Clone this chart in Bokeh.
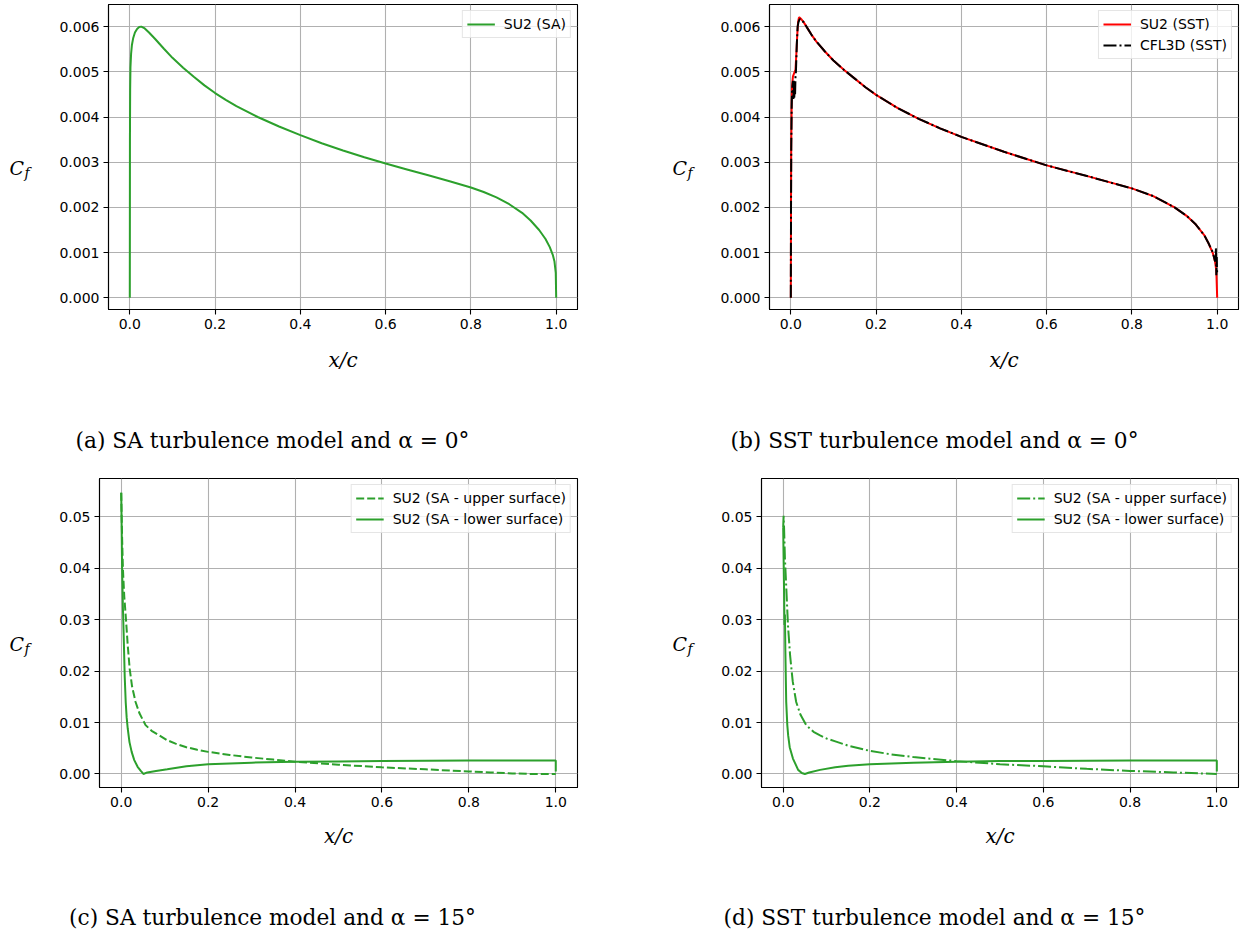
from bokeh.plotting import figure
from bokeh.layouts import column, row
from bokeh.models import Range1d, FixedTicker, NumeralTickFormatter, Legend, LegendItem
from bokeh.core.properties import value
from bokeh.embed import file_html
from bokeh.resources import INLINE

# ---------------- data ----------------
x_ticks = [0.0, 0.2, 0.4, 0.6, 0.8, 1.0]
y_ticks_top = [0.000, 0.001, 0.002, 0.003, 0.004, 0.005, 0.006]
y_ticks_bot = [0.00, 0.01, 0.02, 0.03, 0.04, 0.05]

# (a) SA, alpha = 0
xa = [0.0, 0.0003, 0.0008, 0.0015, 0.003, 0.005, 0.008, 0.012, 0.017, 0.022, 0.027, 0.035,
      0.045, 0.06, 0.08, 0.1, 0.125, 0.15, 0.175, 0.2, 0.225, 0.25, 0.3, 0.35, 0.4, 0.45,
      0.5, 0.55, 0.6, 0.65, 0.7, 0.75, 0.8, 0.83, 0.86, 0.89, 0.92, 0.94, 0.96, 0.975, 0.985,
      0.992, 0.996, 0.999, 1.0]
cfa = [0.0, 0.0035, 0.0046, 0.0051, 0.0054, 0.0056, 0.00575, 0.00587, 0.00595, 0.00599, 0.0060, 0.00596,
       0.00587, 0.00572, 0.00551, 0.00531, 0.00509, 0.00489, 0.00470, 0.00453, 0.00438, 0.00424, 0.00400, 0.00379, 0.00360, 0.00342,
       0.00326, 0.00311, 0.00297, 0.00284, 0.00271, 0.00258, 0.00244, 0.00234, 0.00222, 0.00207, 0.00188, 0.00171, 0.00150, 0.00130, 0.00112,
       0.00095, 0.00080, 0.00055, 0.0]

# (b) SST, alpha = 0
xb = [0.0, 0.0005, 0.001, 0.002, 0.003, 0.005, 0.007, 0.009, 0.011, 0.013, 0.015, 0.017, 0.019,
      0.021, 0.024, 0.03, 0.04, 0.05, 0.06, 0.08, 0.1, 0.125, 0.15, 0.175, 0.2, 0.25, 0.3, 0.35, 0.4,
      0.5, 0.6, 0.7, 0.8, 0.85, 0.9, 0.93, 0.95, 0.97, 0.98, 0.99, 0.995, 0.998, 1.0]
cfb = [0.0, 0.0022, 0.0034, 0.0043, 0.0047, 0.0049, 0.00495, 0.0050, 0.00505, 0.0054, 0.0058, 0.0061, 0.0062,
       0.0062, 0.00617, 0.0061, 0.00595, 0.0058, 0.00567, 0.00545, 0.00525, 0.00504, 0.00485, 0.00466, 0.00449, 0.00420, 0.00396, 0.00375, 0.00356,
       0.00323, 0.00293, 0.00268, 0.00242, 0.00225, 0.00200, 0.00180, 0.00162, 0.00138, 0.00120, 0.00098, 0.00080, 0.00060, 0.0]
xk = [0.0, 0.0005, 0.001, 0.002, 0.003, 0.005, 0.006, 0.007, 0.008, 0.009, 0.010, 0.011, 0.012,
      0.014, 0.016, 0.018, 0.02, 0.022, 0.025, 0.03, 0.04, 0.05, 0.06, 0.08, 0.1, 0.125, 0.15, 0.175, 0.2,
      0.25, 0.3, 0.35, 0.4, 0.5, 0.6, 0.7, 0.8, 0.85, 0.9, 0.93, 0.95, 0.97, 0.98, 0.99, 0.995,
      0.997, 0.998, 0.999, 1.0]
cfk = [0.0, 0.0020, 0.0033, 0.0042, 0.0046, 0.0048, 0.0044, 0.0048, 0.0044, 0.0047, 0.0045, 0.0049, 0.0050,
       0.0056, 0.0060, 0.0061, 0.00615, 0.00617, 0.00614, 0.0061, 0.00595, 0.0058, 0.00567, 0.00545, 0.00525, 0.00504, 0.00485, 0.00466, 0.00449,
       0.00420, 0.00396, 0.00375, 0.00356, 0.00323, 0.00293, 0.00268, 0.00242, 0.00225, 0.00200, 0.00180, 0.00162, 0.00138, 0.00120, 0.00100, 0.00080,
       0.00110, 0.00050, 0.00090, 0.00050]

# (c) SA, alpha = 15
xcu = [0.0, 0.001, 0.002, 0.004, 0.007, 0.011, 0.015, 0.0195, 0.025, 0.033, 0.042, 0.056, 0.07,
       0.088, 0.105, 0.125, 0.15, 0.175, 0.2, 0.25, 0.3, 0.35, 0.4, 0.5, 0.6, 0.7, 0.8, 0.85,
       0.9, 0.95, 1.0]
cfcu = [0.0547, 0.050, 0.046, 0.0397, 0.0345, 0.030, 0.025, 0.0204, 0.017, 0.014, 0.0118, 0.0095, 0.0084,
        0.0075, 0.0066, 0.0059, 0.0052, 0.0047, 0.0043, 0.0037, 0.0032, 0.0028, 0.0024, 0.0018, 0.0013, 0.0009, 0.0005, 0.0003,
        0.0001, 0.0, 0.0]
xcl = [0.0, 0.001, 0.002, 0.004, 0.0057, 0.008, 0.0103, 0.0125, 0.015, 0.019, 0.024, 0.03, 0.0377,
       0.045, 0.051, 0.06, 0.08, 0.106, 0.15, 0.2, 0.3, 0.4, 0.5, 0.6, 0.7, 0.8, 0.9, 0.999,
       1.0, 1.0]
cfcl = [0.0547, 0.048, 0.040, 0.032, 0.0268, 0.019, 0.014, 0.011, 0.0088, 0.0062, 0.0043, 0.0027, 0.0014,
        0.0006, 0.0, 0.0003, 0.0006, 0.0009, 0.0015, 0.0019, 0.0022, 0.0024, 0.00245, 0.0025, 0.00255, 0.0026, 0.0026, 0.0026,
        0.0026, 0.0005]

# (d) SST, alpha = 15
xdu = [0.0, 0.001, 0.002, 0.004, 0.007, 0.011, 0.016, 0.022, 0.03, 0.04, 0.053, 0.07, 0.085,
       0.1, 0.122, 0.15, 0.2, 0.25, 0.3, 0.4, 0.5, 0.6, 0.7, 0.8, 0.9, 1.0]
cfdu = [0.048, 0.0502, 0.048, 0.042, 0.0365, 0.029, 0.023, 0.018, 0.014, 0.0115, 0.0095, 0.0082, 0.0075,
        0.0069, 0.0063, 0.0055, 0.0045, 0.0038, 0.0033, 0.0025, 0.0019, 0.0015, 0.0010, 0.0006, 0.0003, 0.0]
xdl = [0.0, 0.001, 0.002, 0.003, 0.004, 0.005, 0.007, 0.0095, 0.0115, 0.015, 0.0225, 0.0345, 0.043,
       0.05, 0.06, 0.085, 0.12, 0.15, 0.2, 0.3, 0.4, 0.5, 0.6, 0.7, 0.8, 0.9, 0.999, 1.0, 1.0]
cfdl = [0.048, 0.042, 0.036, 0.029, 0.031, 0.024, 0.014, 0.0095, 0.0075, 0.0052, 0.003, 0.0008, 0.0002,
        0.0, 0.0003, 0.0008, 0.0013, 0.0016, 0.0019, 0.0022, 0.0024, 0.0025, 0.0025, 0.00255, 0.0026, 0.0026, 0.0026, 0.0026, 0.0005]

captions = ["(a) SA turbulence model and \u03b1 = 0\u00b0",
            "(b) SST turbulence model and \u03b1 = 0\u00b0",
            "(c) SA turbulence model and \u03b1 = 15\u00b0",
            "(d) SST turbulence model and \u03b1 = 15\u00b0"]

GREEN = "#2ca02c"
RED = "#ff0000"
TICK_FONT = "DejaVu Sans"
SERIF = "DejaVu Serif"


def blank_fig(w, h, bt=0, bb=0):
    # frame coordinates = pixels measured from the frame's bottom-left corner
    f = figure(width=w, height=h, output_backend="svg", toolbar_location=None,
               x_axis_location=None, y_axis_location=None,
               x_range=Range1d(0, w), y_range=Range1d(0, h - bt - bb),
               min_border_left=0, min_border_right=0,
               min_border_top=bt, min_border_bottom=bb)
    f.xgrid.visible = False
    f.ygrid.visible = False
    f.outline_line_color = None
    f.background_fill_color = "white"
    f.border_fill_color = "white"
    return f


def cf_label(w, h, bt, bb, cx, cy):
    f = blank_fig(w, h, bt, bb)
    f.text(x=[cx], y=[cy], text=["C"], text_font=value(SERIF), text_font_style="italic",
           text_font_size="19px", text_align="left", text_baseline="alphabetic", text_color="black")
    f.text(x=[cx + 15], y=[cy - 5], text=["f"], text_font=value(SERIF), text_font_style="italic",
           text_font_size="14px", text_align="left", text_baseline="alphabetic", text_color="black")
    return f


def caption_strip(w, h, xs, y, texts):
    f = blank_fig(w, h)
    f.text(x=xs, y=[y] * len(xs), text=texts, text_font=value(SERIF),
           text_font_size="21.7px", text_align="center", text_baseline="middle", text_color="black")
    return f


def make_fig(width, height, bl, br, bt, bb, yr, yticks, yfmt, xlab_standoff):
    p = figure(width=width, height=height, output_backend="svg", toolbar_location=None,
               x_range=Range1d(-0.05, 1.05), y_range=Range1d(*yr),
               min_border_left=bl, min_border_right=br, min_border_top=bt, min_border_bottom=bb)
    p.background_fill_color = "white"
    p.border_fill_color = "white"
    p.outline_line_color = "black"
    p.outline_line_width = 1.1
    p.outline_line_alpha = 1.0
    p.xaxis.ticker = FixedTicker(ticks=x_ticks)
    p.xaxis.formatter = NumeralTickFormatter(format="0.0")
    p.yaxis.ticker = FixedTicker(ticks=yticks)
    p.yaxis.formatter = NumeralTickFormatter(format=yfmt)
    for ax in (p.xaxis[0], p.yaxis[0]):
        ax.axis_line_color = "black"
        ax.axis_line_width = 1.1
        ax.major_tick_out = 5
        ax.major_tick_in = 0
        ax.major_tick_line_color = "black"
        ax.major_tick_line_width = 1.1
        ax.minor_tick_line_color = None
        ax.major_label_text_font = TICK_FONT
        ax.major_label_text_font_size = "14px"
        ax.major_label_text_color = "black"
        ax.major_label_standoff = 4
    xa_ = p.xaxis[0]
    xa_.axis_label = "x/c"
    xa_.axis_label_text_font = SERIF
    xa_.axis_label_text_font_style = "italic"
    xa_.axis_label_text_font_size = "20px"
    xa_.axis_label_text_color = "black"
    xa_.axis_label_standoff = xlab_standoff
    p.xgrid.ticker = FixedTicker(ticks=x_ticks)
    p.ygrid.ticker = FixedTicker(ticks=yticks)
    for g in (p.xgrid[0], p.ygrid[0]):
        g.grid_line_color = "#b0b0b0"
        g.grid_line_width = 1.1
    return p


def style_legend(p, items):
    leg = Legend(items=items, location="top_right")
    leg.label_text_font = TICK_FONT
    leg.label_text_font_size = "14px"
    leg.label_text_color = "black"
    leg.glyph_width = 28
    leg.glyph_height = 18
    leg.label_height = 18
    leg.label_standoff = 9
    leg.padding = 4
    leg.spacing = 3
    leg.margin = 6
    leg.border_line_color = "#cccccc"
    leg.border_line_width = 1
    leg.background_fill_color = "white"
    leg.background_fill_alpha = 0.8
    p.add_layout(leg)


TOP_YR = (-0.00026, 0.00649)
BOT_YR = (-0.00263, 0.05747)

# (a)
pa = make_fig(600, 380, 68, 63, 4, 71, TOP_YR, y_ticks_top, "0.000", 16)
ra = pa.line(xa, cfa, line_color=GREEN, line_width=2)
style_legend(pa, [LegendItem(label="SU2 (SA)", renderers=[ra])])

# (b)
pb = make_fig(543, 380, 69, 5, 4, 71, TOP_YR, y_ticks_top, "0.000", 16)
rb = pb.line(xb, cfb, line_color=RED, line_width=2)
rk = pb.line(xk, cfk, line_color="black", line_width=2, line_dash="13 3 2 3")
style_legend(pb, [LegendItem(label="SU2 (SST)", renderers=[rb]),
                  LegendItem(label="CFL3D (SST)", renderers=[rk])])

# (c)
pc = make_fig(600, 380, 59, 63, 8, 61, BOT_YR, y_ticks_bot, "0.00", 14)
rcu = pc.line(xcu, cfcu, line_color=GREEN, line_width=2, line_dash="8 3")
rcl = pc.line(xcl, cfcl, line_color=GREEN, line_width=2)
style_legend(pc, [LegendItem(label="SU2 (SA - upper surface)", renderers=[rcu]),
                  LegendItem(label="SU2 (SA - lower surface)", renderers=[rcl])])

# (d)
pd_ = make_fig(543, 380, 61, 5, 8, 61, BOT_YR, y_ticks_bot, "0.00", 14)
rdu = pd_.line(xdu, cfdu, line_color=GREEN, line_width=2, line_dash="13 3 2 3")
rdl = pd_.line(xdl, cfdl, line_color=GREEN, line_width=2)
style_legend(pd_, [LegendItem(label="SU2 (SA - upper surface)", renderers=[rdu]),
                   LegendItem(label="SU2 (SA - lower surface)", renderers=[rdl])])

# y-axis labels (C_f): narrow strips sharing the plots' top/bottom borders
cfa_lab = cf_label(40, 380, 4, 71, 9, 142)
cfb_lab = cf_label(60, 380, 4, 71, 32, 142)
cfc_lab = cf_label(40, 380, 8, 61, 9, 144)
cfd_lab = cf_label(60, 380, 8, 61, 32, 144)

cap_top = caption_strip(1243, 90, [272, 934], 30, captions[:2])
cap_bot = caption_strip(1243, 86, [272, 934], 19, captions[2:])

layout = column(
    row(cfa_lab, pa, cfb_lab, pb, spacing=0),
    cap_top,
    row(cfc_lab, pc, cfd_lab, pd_, spacing=0),
    cap_bot,
    spacing=0,
)
open("out.html", "w").write(file_html(layout, INLINE))
